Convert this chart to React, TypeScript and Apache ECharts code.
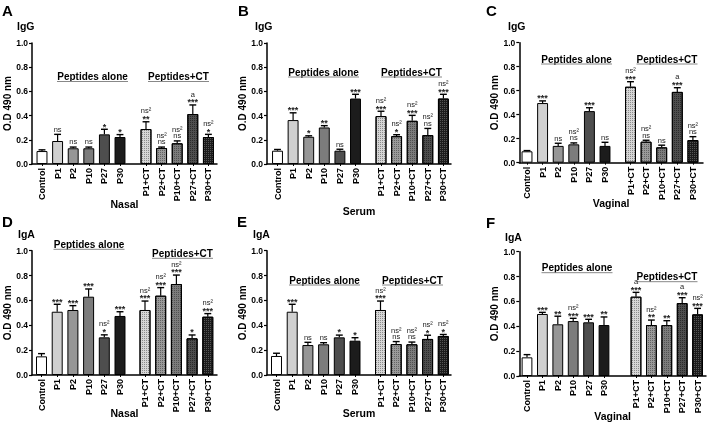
import React, { useEffect, useRef } from "react";
import * as echarts from "echarts";

const FF = "'Liberation Sans', Arial, Helvetica, sans-serif";

const aloneCats = ["Control", "P1", "P2", "P10", "P27", "P30"];
const ctCats = ["P1+CT", "P2+CT", "P10+CT", "P27+CT", "P30+CT"];
const yTicks = [0, 0.2, 0.4, 0.6, 0.8, 1.0];

// A  Nasal IgG
const nasalIgGMean = [0.107, 0.19, 0.13, 0.13, 0.245, 0.223, 0.289, 0.132, 0.171, 0.413, 0.223];
const nasalIgGErr = [0.01, 0.055, 0.01, 0.01, 0.042, 0.02, 0.06, 0.008, 0.02, 0.075, 0.022];
const nasalIgGMarks = ["", "ns", "ns", "ns", "*", "*", "ns²|**", "ns²|ns", "ns²|ns", "a|***", "ns²|*"];

// B  Serum IgG
const serumIgGMean = [0.11, 0.363, 0.225, 0.302, 0.11, 0.541, 0.396, 0.23, 0.357, 0.239, 0.541];
const serumIgGErr = [0.01, 0.06, 0.008, 0.015, 0.012, 0.035, 0.04, 0.012, 0.045, 0.055, 0.035];
const serumIgGMarks = ["", "***", "*", "**", "ns", "***", "ns²|***", "ns²|*", "ns²|***", "ns²|ns", "ns²|***"];

// C  Vaginal IgG
const vaginalIgGMean = [0.095, 0.497, 0.14, 0.153, 0.43, 0.14, 0.633, 0.175, 0.128, 0.59, 0.189];
const vaginalIgGErr = [0.006, 0.018, 0.022, 0.012, 0.028, 0.03, 0.042, 0.012, 0.018, 0.035, 0.028];
const vaginalIgGMarks = ["", "***", "ns", "ns²|ns", "***", "ns", "ns²|***", "ns²|ns", "ns", "a|***", "ns²|ns"];

// D  Nasal IgA
const nasalIgAMean = [0.15, 0.509, 0.523, 0.63, 0.303, 0.475, 0.523, 0.638, 0.732, 0.295, 0.469];
const nasalIgAErr = [0.022, 0.06, 0.035, 0.062, 0.02, 0.034, 0.072, 0.065, 0.072, 0.027, 0.025];
const nasalIgAMarks = ["", "***", "***", "***", "ns²|*", "***", "ns²|***", "ns²|***", "ns²|***", "*", "ns²|***"];

// E  Serum IgA
const serumIgAMean = [0.153, 0.509, 0.241, 0.247, 0.303, 0.276, 0.523, 0.249, 0.247, 0.29, 0.314];
const serumIgAErr = [0.022, 0.06, 0.022, 0.013, 0.018, 0.024, 0.072, 0.02, 0.018, 0.03, 0.012];
const serumIgAMarks = ["", "***", "ns", "ns", "*", "*", "ns²|***", "ns²|ns", "ns²|ns", "ns²|*", "ns²|*"];

// F  Vaginal IgA
const vaginalIgAMean = [0.15, 0.499, 0.416, 0.442, 0.432, 0.41, 0.638, 0.41, 0.41, 0.587, 0.496];
const vaginalIgAErr = [0.022, 0.013, 0.065, 0.022, 0.024, 0.065, 0.035, 0.04, 0.035, 0.043, 0.048];
const vaginalIgAMarks = ["", "***", "**", "ns²|***", "***", "**", "a|***", "ns²|**", "**", "a|***", "ns²|***"];

const panelLetters = ["A", "B", "C", "D", "E", "F"];
const panelIsotypes = ["IgG", "IgG", "IgG", "IgA", "IgA", "IgA"];
const panelSites = ["Nasal", "Serum", "Vaginal", "Nasal", "Serum", "Vaginal"];
const groupTitles = ["Peptides alone", "Peptides+CT"];

const panelData = [
  { mean: nasalIgGMean, err: nasalIgGErr, marks: nasalIgGMarks },
  { mean: serumIgGMean, err: serumIgGErr, marks: serumIgGMarks },
  { mean: vaginalIgGMean, err: vaginalIgGErr, marks: vaginalIgGMarks },
  { mean: nasalIgAMean, err: nasalIgAErr, marks: nasalIgAMarks },
  { mean: serumIgAMean, err: serumIgAErr, marks: serumIgAMarks },
  { mean: vaginalIgAMean, err: vaginalIgAErr, marks: vaginalIgAMarks },
];

// layout (pixels)
const layouts = [
  { fl: 32, fr: 217, y1: 43, y0: 164, lc: 42, rc: 146, step: 15.6, yng: 15, siteY: 203.5, letter: [2, 3], iso: [17, 20], alone: [92.5, 76.5, 71], ct: [178.5, 76.5, 61] },
  { fl: 267, fr: 451, y1: 43, y0: 164, lc: 277.5, rc: 381, step: 15.6, yng: 17, siteY: 210.5, letter: [238, 3], iso: [255, 20], alone: [323.5, 72, 71], ct: [411.5, 72, 61] },
  { fl: 519.3, fr: 703, y1: 42.7, y0: 162.7, lc: 527, rc: 630.5, step: 15.6, yng: 19, siteY: 203, letter: [486, 3], iso: [508, 20], alone: [576.5, 59, 71], ct: [667, 59, 61] },
  { fl: 32, fr: 217, y1: 250.7, y0: 375, lc: 41.5, rc: 145, step: 15.7, yng: 17, siteY: 412.5, letter: [2, 214], iso: [18, 228], alone: [89, 244.3, 71], ct: [182.5, 253.3, 61] },
  { fl: 267, fr: 451, y1: 250.7, y0: 375, lc: 276.5, rc: 380.5, step: 15.7, yng: 17, siteY: 412.5, letter: [237, 214], iso: [253, 228], alone: [324.5, 280, 71], ct: [412.5, 280, 61] },
  { fl: 519.3, fr: 706, y1: 251.7, y0: 376, lc: 527, rc: 636, step: 15.4, yng: 19, siteY: 415.5, letter: [486, 215], iso: [505, 231], alone: [577, 267.7, 71], ct: [667, 276.7, 61] },
];

const aloneColors = ["#ffffff", "#d0d0d0", "#969696", "#7c7c7c", "#4e4e4e", "#1c1c1c"];
const ctColors = ["#d6d6d6", "#9a9a9a", "#7c7c7c", "#4e4e4e", "#1c1c1c"];
const ctDots = ["rgba(0,0,0,0.35)", "rgba(0,0,0,0.35)", "rgba(0,0,0,0.35)", "rgba(0,0,0,0.45)", "rgba(255,255,255,0.25)"];

function buildOption() {
  const grid: any[] = [];
  const xAxis: any[] = [];
  const yAxis: any[] = [];
  const series: any[] = [];
  const graphic: any[] = [];

  layouts.forEach((L, p) => {
    const d = panelData[p];
    const h = L.y0 - L.y1;
    const fi = 3 * p;
    grid.push({ left: L.fl, top: L.y1, width: L.fr - L.fl, height: h });
    xAxis.push({
      gridIndex: fi, type: "value", min: 0, max: 1,
      axisLine: { show: true, lineStyle: { color: "#000", width: 1.5 } },
      axisTick: { show: false }, axisLabel: { show: false }, splitLine: { show: false },
    });
    yAxis.push({
      gridIndex: fi, type: "value", min: yTicks[0], max: yTicks[yTicks.length - 1], interval: 0.2,
      axisLine: { show: true, lineStyle: { color: "#000", width: 1.5 } },
      axisTick: { show: true, length: 3, lineStyle: { color: "#000", width: 1.2 } },
      axisLabel: { formatter: (v: number) => v.toFixed(1), margin: 4, fontFamily: FF, fontWeight: "bold", fontSize: 8.5, color: "#000" },
      splitLine: { show: false },
      name: "O.D 490 nm", nameLocation: "middle", nameGap: L.yng,
      nameTextStyle: { fontFamily: FF, fontWeight: "bold", fontSize: 10, color: "#000" },
    });

    const groups: [string[], number, number][] = [[aloneCats, 0, L.lc], [ctCats, 6, L.rc]];
    groups.forEach(([cats, off, c0], k) => {
      const gi = fi + 1 + k;
      grid.push({ left: c0 - L.step / 2, top: L.y1, width: L.step * cats.length, height: h });
      xAxis.push({
        gridIndex: gi, type: "category", data: cats,
        axisLine: { show: false },
        axisTick: { show: true, alignWithLabel: true, length: 2, lineStyle: { color: "#000" } },
        axisLabel: { rotate: 90, margin: 4, interval: 0, fontFamily: FF, fontWeight: "bold", fontSize: 9, color: "#000" },
        splitLine: { show: false },
      });
      yAxis.push({ gridIndex: gi, type: "value", min: 0, max: 1, show: false });
      series.push({
        type: "bar", xAxisIndex: gi, yAxisIndex: gi, barWidth: "70%", z: 2,
        data: cats.map((c, i) => {
          const isCT = k === 1;
          const item: any = {
            value: d.mean[off + i],
            itemStyle: { color: isCT ? ctColors[i] : aloneColors[i], borderColor: "#000", borderWidth: 1 },
          };
          if (isCT) {
            item.itemStyle.decal = {
              symbol: "rect", symbolSize: 1, dashArrayX: [1, 1], dashArrayY: [1, 1],
              rotation: 0, color: ctDots[i],
            };
          }
          return item;
        }),
      });
      series.push({
        type: "custom", xAxisIndex: gi, yAxisIndex: gi, z: 3,
        encode: { x: 0, y: 1 },
        data: cats.map((c, i) => [i, d.mean[off + i], d.err[off + i]]),
        renderItem: (params: any, api: any) => {
          const i = api.value(0);
          const m = api.value(1);
          const e = api.value(2);
          const base = api.coord([i, m]);
          const top = api.coord([i, m + e]);
          const bw = api.size([1, 0])[0];
          const cap = bw * 0.22;
          const children: any[] = [
            { type: "line", shape: { x1: base[0], y1: base[1], x2: top[0], y2: top[1] }, style: { stroke: "#000", lineWidth: 1.2 } },
            { type: "line", shape: { x1: top[0] - cap, y1: top[1], x2: top[0] + cap, y2: top[1] }, style: { stroke: "#000", lineWidth: 1.4 } },
          ];
          const mark = d.marks[off + params.dataIndex];
          if (mark) {
            const rows = mark.split("|").reverse();
            let prevTop = top[1];
            rows.forEach((t, r) => {
              const isAst = t.charAt(0) === "*";
              const size = isAst ? 9 : 7.5;
              let baseline: number;
              if (r === 0) baseline = isAst ? top[1] + 0.5 : top[1] - 2.5;
              else baseline = prevTop - 2.3;
              prevTop = isAst ? baseline - 0.72 * size : baseline - 0.55 * size;
              children.push({
                type: "text",
                style: {
                  text: t, x: top[0], y: baseline - 0.3465 * size,
                  align: "center", verticalAlign: "middle",
                  font: (isAst ? "bold " : "") + size + "px " + FF,
                  fill: "#222222",
                },
              });
            });
          }
          return { type: "group", children };
        },
      });
    });

    // panel letter, isotype, site
    graphic.push({
      type: "text", x: L.letter[0], y: L.letter[1],
      style: { text: panelLetters[p], font: "bold 15px " + FF, fill: "#000", align: "left", verticalAlign: "top" },
    });
    graphic.push({
      type: "text", x: L.iso[0], y: L.iso[1],
      style: { text: panelIsotypes[p], font: "bold 10.5px " + FF, fill: "#000", align: "left", verticalAlign: "top" },
    });
    graphic.push({
      type: "text", x: (L.fl + L.fr) / 2, y: L.siteY,
      style: { text: panelSites[p], font: "bold 10.5px " + FF, fill: "#000", align: "center", verticalAlign: "middle" },
    });
    [L.alone, L.ct].forEach((g, k) => {
      graphic.push({
        type: "text", x: g[0], y: g[1],
        style: { text: groupTitles[k], font: "bold 10px " + FF, fill: "#000", align: "center", verticalAlign: "middle" },
      });
      graphic.push({
        type: "line",
        shape: { x1: g[0] - g[2] / 2, y1: g[1] + 5, x2: g[0] + g[2] / 2, y2: g[1] + 5 },
        style: { stroke: "#888", lineWidth: 1 },
      });
    });
  });

  return {
    animation: false,
    grid, xAxis, yAxis, series, graphic,
  };
}

export default function App() {
  const ref = useRef<HTMLDivElement>(null);
  useEffect(() => {
    if (!ref.current) return;
    const chart = echarts.init(ref.current, undefined, { renderer: "svg" });
    chart.setOption(buildOption() as any);
    return () => chart.dispose();
  }, []);
  return (
    <div
      ref={ref}
      style={{ position: "absolute", left: 0, top: 0, width: 709, height: 431, willChange: "transform" }}
    />
  );
}
